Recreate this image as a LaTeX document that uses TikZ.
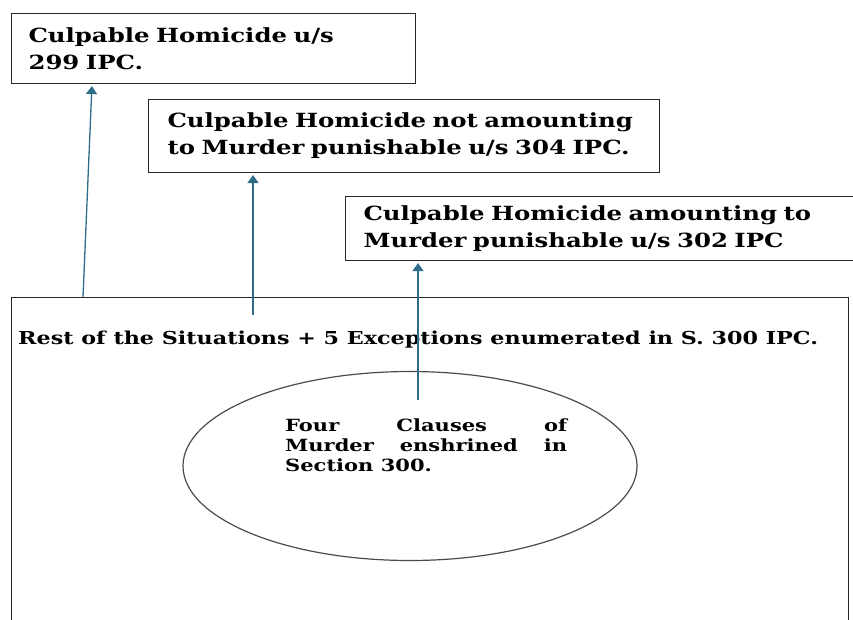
\documentclass[tikz,border=0pt]{standalone}
\usepackage{fontspec}
\setmainfont{DejaVu Serif}[FakeStretch=1.25]
\usetikzlibrary{arrows.meta,shapes.geometric}
\definecolor{arrowblue}{RGB}{47,108,138}
\definecolor{boxline}{RGB}{40,40,40}
\definecolor{ovalline}{RGB}{75,75,75}
\tikzset{
	ipcbox/.style={draw=boxline, line width=1.1pt, anchor=north west, align=left, inner ysep=0pt, font=\bfseries\fontsize{19.5}{27}\selectfont},
	uparrow/.style={draw=arrowblue, line width=1.3pt, shorten >=2pt, -{Triangle[width=11pt,length=8pt]}}
}

\begin{document}
\begin{tikzpicture}[x=1pt,y=-1pt]
	\useasboundingbox (0,0) rectangle (853,619);
	% the three offences
	\node[ipcbox, inner xsep=17pt, text width=370pt, minimum height=70pt] (b299) at (11,13) {Culpable Homicide u/s\\299 IPC.};
	\node[ipcbox, inner xsep=19pt, text width=473pt, minimum height=73pt] (b304) at (148,99) {Culpable Homicide not amounting\\to Murder punishable u/s 304 IPC.};
	\node[ipcbox, inner xsep=18pt, text width=476pt, minimum height=64pt] (b302) at (345,196) {Culpable Homicide amounting to\\Murder punishable u/s 302 IPC};
	% section 300
	\node[draw=boxline, line width=1.1pt, anchor=north west, inner sep=0pt, minimum width=837pt, minimum height=340pt] (outer) at (11,297) {};
	\node[anchor=west, inner sep=0pt, font=\bfseries\fontsize{17.8}{21}\selectfont] (rest) at (18,340) {Rest of the Situations + 5 Exceptions enumerated in S. 300 IPC.};
	\node[ellipse, draw=ovalline, line width=1.2pt, inner sep=0pt, minimum width=454pt, minimum height=189pt] (clause) at (410,466) {};
	\node[anchor=north west, inner sep=0pt, align=left, font=\bfseries\fontsize{16.8}{20}\selectfont] (cltext) at (285,419) {\makebox[282pt][s]{Four Clauses of}\\\makebox[282pt][s]{Murder enshrined in}\\Section 300.};
	% arrows
	\draw[uparrow] ([xshift=72pt]outer.north west) -- ([xshift=81pt]b299.south west);
	\draw[uparrow] ([xshift=242pt,yshift=-18pt]outer.north west) -- ([xshift=105pt]b304.south west);
	\draw[uparrow] ([xshift=8pt,yshift=-29pt]clause.north) -- ([xshift=73pt]b302.south west);
\end{tikzpicture}
\end{document}
